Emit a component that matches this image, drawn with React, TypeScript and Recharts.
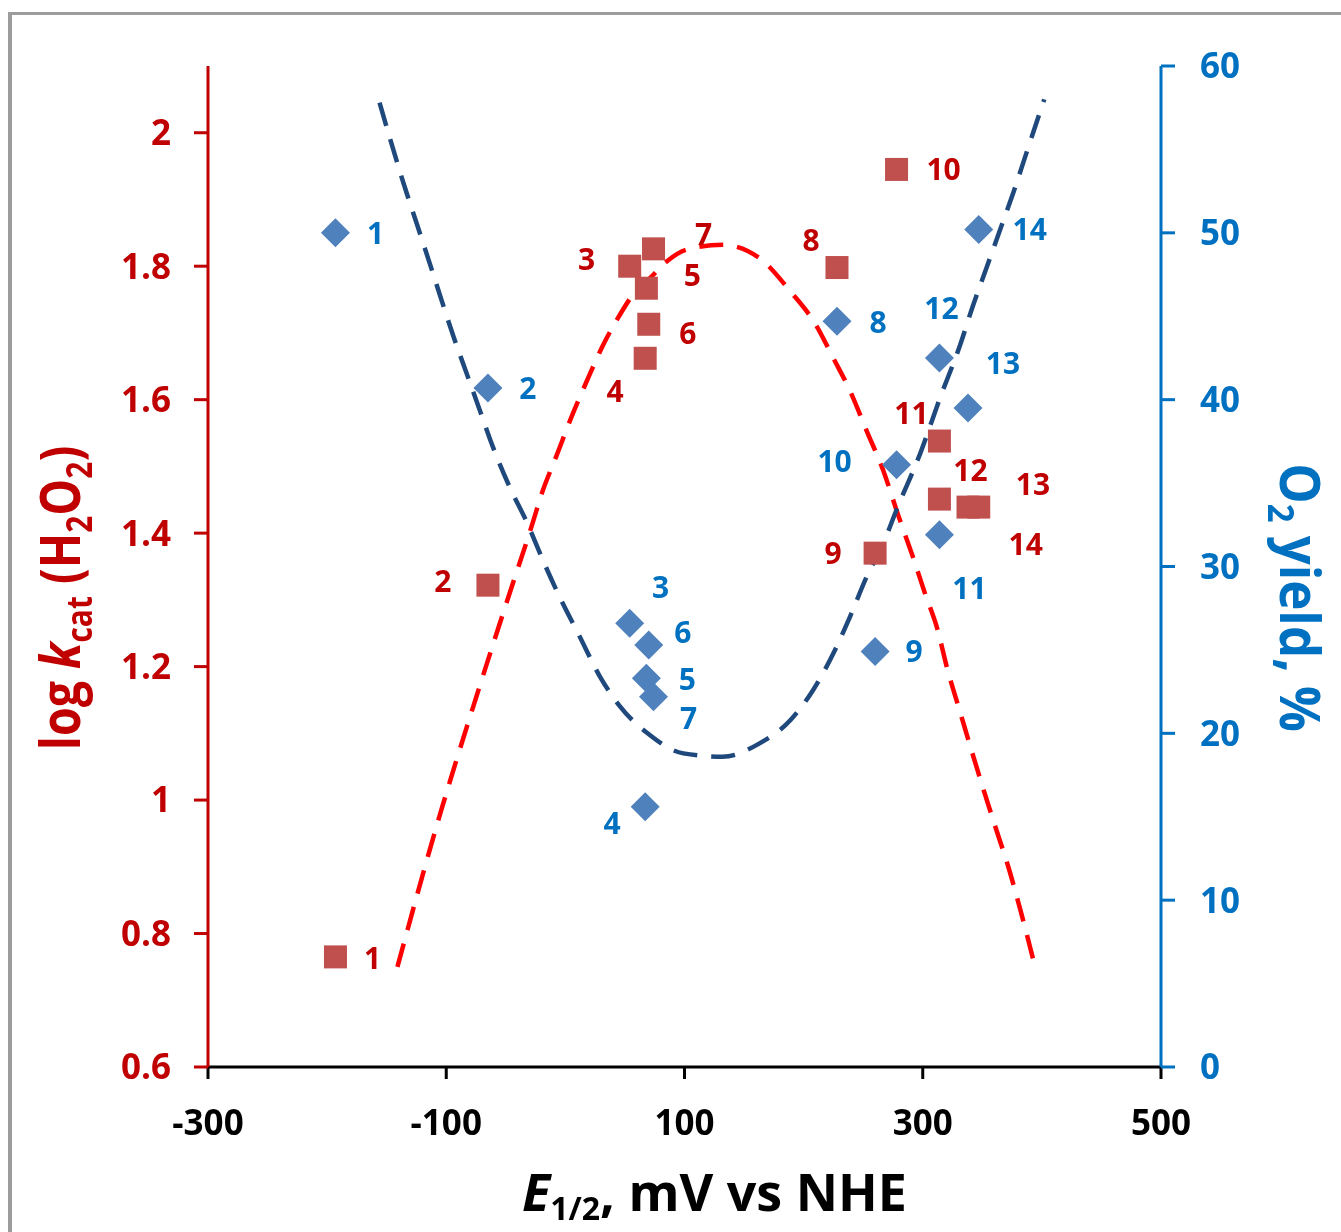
import React from 'react';
import { ComposedChart, XAxis, YAxis, Scatter, Line, Label } from 'recharts';

// ---- data ----
const compoundIds = ['1', '2', '3', '4', '5', '6', '7', '8', '9', '10', '11', '12', '13', '14'];
const e12 = [-193, -65, 54, 67, 68, 70, 74, 228, 260, 278, 314, 314, 338, 347];
const logKcat = [0.765, 1.322, 1.8, 1.662, 1.767, 1.713, 1.826, 1.798, 1.37, 1.945, 1.538, 1.451, 1.439, 1.439];
const o2Yield = [50.0, 40.7, 26.6, 15.6, 23.3, 25.3, 22.2, 44.7, 24.9, 36.1, 31.9, 42.5, 39.5, 50.2];

const redFitE = [-141, -105, -74, -49, -27, -21, -7, 6, 18, 32, 46, 57, 71, 85, 102, 132, 163, 189, 210, 225, 239, 253, 267, 279, 292, 302, 312, 321, 331, 341, 352, 362, 372, 382, 395];
const redFitLogK = [0.75, 0.98, 1.159, 1.298, 1.418, 1.453, 1.518, 1.578, 1.628, 1.683, 1.728, 1.758, 1.782, 1.807, 1.825, 1.832, 1.812, 1.762, 1.713, 1.662, 1.613, 1.553, 1.493, 1.429, 1.363, 1.309, 1.258, 1.194, 1.134, 1.074, 1.01, 0.954, 0.899, 0.835, 0.745];

const blueFitE = [-156, -147, -136, -125, -114, -105, -94, -83, -72, -61, -47, -32, -19, -5, 12, 29, 46, 69, 99, 132, 163, 189, 208, 225, 239, 253, 267, 278, 298, 315, 331, 342, 354, 365, 376, 388, 402];
const blueFitYield = [57.8, 55.6, 53.0, 50.6, 48.2, 46.2, 43.8, 41.6, 39.4, 37.2, 34.8, 32.6, 30.4, 28.2, 25.8, 23.4, 21.6, 20.0, 18.8, 18.6, 19.4, 20.8, 22.6, 24.8, 27.0, 29.4, 31.4, 33.4, 36.8, 40.2, 43.2, 45.6, 48.0, 50.2, 52.4, 55.0, 58.0];

const xTicks = [-300, -100, 100, 300, 500];
const leftTicks = [0.6, 0.8, 1, 1.2, 1.4, 1.6, 1.8, 2];
const rightTicks = [0, 10, 20, 30, 40, 50, 60];

// ---- label placement (presentation only) ----
const redLabelOffsets: [number, number][] = [
  [37, 1], [-45, -4], [-43, -7], [-30, 33], [46, -13], [39, 9], [50, -15],
  [-26, -27], [-42, 0], [47, 0], [-28, -28], [31, -29], [65, -23], [47, 37],
];
const blueLabelOffsets: [number, number][] = [
  [40, 0], [40, 0], [31, -36], [-33, 16], [41, 1], [34, -13], [35, 22],
  [41, 1], [39, 0], [-62, -4], [30, 53], [2, -50], [35, -45], [51, 0],
];

const redPts = e12.map((x, i) => ({ x, y: logKcat[i], label: compoundIds[i], i }));
const bluePts = e12.map((x, i) => ({ x, y: o2Yield[i], label: compoundIds[i], i }));
const redFit = redFitE.map((x, i) => ({ x, y: redFitLogK[i] }));
const blueFit = blueFitE.map((x, i) => ({ x, y: blueFitYield[i] }));

const FONT = "'Open Sans', 'Noto Sans', sans-serif";
const RED = '#C00000';
const BLUE = '#0070C0';

const SquareMarker = (props: any) => {
  const { cx, cy, payload } = props;
  if (cx == null || cy == null) return null;
  const off = redLabelOffsets[payload.i];
  return (
    <g>
      <rect x={cx - 11.5} y={cy - 11.5} width={23} height={23} fill="#C0504D" />
      <text x={cx + off[0]} y={cy + off[1]} dy="0.36em" textAnchor="middle" fontFamily={FONT} fontWeight={700} fontSize={30} fill={RED}>
        {payload.label}
      </text>
    </g>
  );
};

const DiamondMarker = (props: any) => {
  const { cx, cy, payload } = props;
  if (cx == null || cy == null) return null;
  const off = blueLabelOffsets[payload.i];
  const r = 14.5;
  return (
    <g>
      <polygon points={`${cx},${cy - r} ${cx + r},${cy} ${cx},${cy + r} ${cx - r},${cy}`} fill="#4F81BD" />
      <text x={cx + off[0]} y={cy + off[1]} dy="0.36em" textAnchor="middle" fontFamily={FONT} fontWeight={700} fontSize={30} fill={BLUE}>
        {payload.label}
      </text>
    </g>
  );
};

const XTitle = (props: any) => {
  const vb = props.viewBox || { x: 208, y: 1067, width: 953, height: 165 };
  const cx = vb.x + vb.width / 2 + 30;
  const y = vb.y + 144;
  return (
    <text x={cx} y={y} textAnchor="middle" fontFamily={FONT} fontWeight={700} fontSize={52} fill="#000">
      <tspan fontStyle="italic">E</tspan>
      <tspan fontSize={32} dy={9}>1/2</tspan>
      <tspan dy={-9}>, mV vs NHE</tspan>
    </text>
  );
};

const LeftTitle = (props: any) => {
  const vb = props.viewBox || { x: 0, y: 66, width: 208, height: 1001 };
  const tx = vb.x + 80;
  const ty = vb.y + vb.height / 2 + 31.5;
  return (
    <text transform={`translate(${tx},${ty}) rotate(-90) scale(0.83,1)`} x={0} y={0} textAnchor="middle" fontFamily={FONT} fontWeight={700} fontSize={56} fill={RED}>
      <tspan>{'log '}</tspan>
      <tspan fontStyle="italic">k</tspan>
      <tspan fontSize={36} dy={12}>cat</tspan>
      <tspan dy={-12}>{' (H'}</tspan>
      <tspan fontSize={36} dy={12}>2</tspan>
      <tspan dy={-12}>O</tspan>
      <tspan fontSize={36} dy={12}>2</tspan>
      <tspan dy={-12}>)</tspan>
    </text>
  );
};

const RightTitle = (props: any) => {
  const vb = props.viewBox || { x: 1161, y: 66, width: 180, height: 1001 };
  const tx = vb.x + 119;
  const ty = vb.y + vb.height / 2 + 31;
  return (
    <text transform={`translate(${tx},${ty}) rotate(90) scale(0.91,1)`} x={0} y={0} textAnchor="middle" fontFamily={FONT} fontWeight={700} fontSize={56} fill={BLUE}>
      <tspan>O</tspan>
      <tspan fontSize={36} dy={12}>2</tspan>
      <tspan dy={-12}>{' yield, %'}</tspan>
    </text>
  );
};

export default function App() {
  return (
    <div style={{ position: 'relative', width: 1341, height: 1232, margin: -8 }}>
      <div
        style={{
          position: 'fixed',
          left: 8,
          top: 12,
          width: 1500,
          height: 1500,
          borderLeft: '4px solid #9c9c9c',
          borderTop: '3px solid #9c9c9c',
          pointerEvents: 'none',
        }}
      />
      <ComposedChart width={1341} height={1232} margin={{ top: 66, right: 0, bottom: 0, left: 0 }}>
        <XAxis
          type="number"
          dataKey="x"
          domain={[-300, 500]}
          ticks={xTicks}
          interval={0}
          height={165}
          tickSize={12}
          tickMargin={31}
          axisLine={{ stroke: '#000', strokeWidth: 3 }}
          tickLine={{ stroke: '#000', strokeWidth: 3 }}
          tick={{ fill: '#000', fontSize: 35, fontWeight: 700, fontFamily: FONT }}
          label={<Label content={XTitle} />}
        />
        <YAxis
          yAxisId="left"
          orientation="left"
          type="number"
          domain={[0.6, 2.1]}
          ticks={leftTicks}
          interval={0}
          width={208}
          tickSize={14}
          tickMargin={23}
          axisLine={{ stroke: RED, strokeWidth: 3 }}
          tickLine={{ stroke: RED, strokeWidth: 3 }}
          tick={{ fill: RED, fontSize: 35, fontWeight: 700, fontFamily: FONT }}
          label={<Label content={LeftTitle} />}
        />
        <YAxis
          yAxisId="right"
          orientation="right"
          type="number"
          domain={[0, 60]}
          ticks={rightTicks}
          interval={0}
          width={180}
          tickSize={14}
          tickMargin={25}
          axisLine={{ stroke: BLUE, strokeWidth: 3 }}
          tickLine={{ stroke: BLUE, strokeWidth: 3 }}
          tick={{ fill: BLUE, fontSize: 35, fontWeight: 700, fontFamily: FONT }}
          label={<Label content={RightTitle} />}
        />
        <Scatter data={redPts} dataKey="y" yAxisId="left" shape={SquareMarker} isAnimationActive={false} />
        <Scatter data={bluePts} dataKey="y" yAxisId="right" shape={DiamondMarker} isAnimationActive={false} />
        <Line
          data={redFit}
          dataKey="y"
          yAxisId="left"
          type="monotone"
          stroke="#FF0000"
          strokeWidth={4.5}
          strokeDasharray="24 14"
          dot={false}
          activeDot={false}
          isAnimationActive={false}
        />
        <Line
          data={blueFit}
          dataKey="y"
          yAxisId="right"
          type="monotone"
          stroke="#1F497D"
          strokeWidth={4.5}
          strokeDasharray="24 14"
          dot={false}
          activeDot={false}
          isAnimationActive={false}
        />
      </ComposedChart>
    </div>
  );
}
